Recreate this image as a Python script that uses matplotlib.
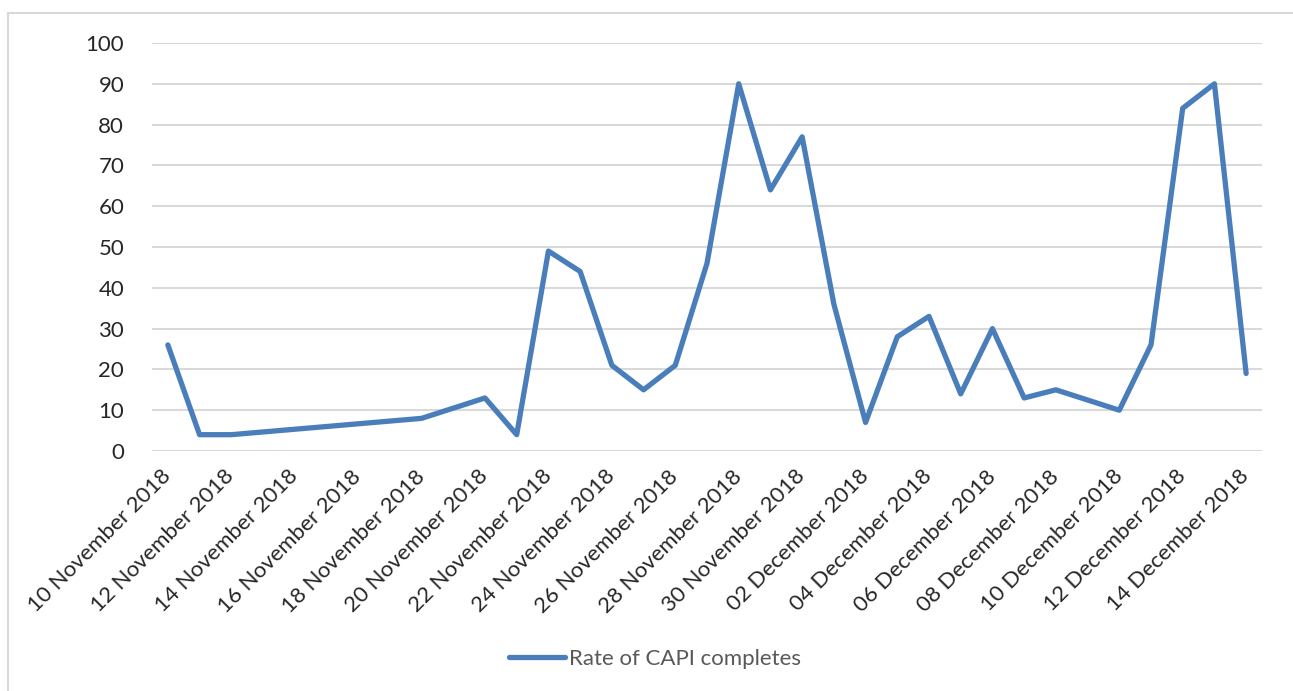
import matplotlib
matplotlib.use("Agg")
import matplotlib.pyplot as plt
import matplotlib.dates as mdates
from matplotlib.patches import Rectangle
import datetime as dt

# Daily CAPI completes (dates with data only)
dates = [
    "2018-11-10", "2018-11-11", "2018-11-12", "2018-11-18", "2018-11-20",
    "2018-11-21", "2018-11-22", "2018-11-23", "2018-11-24", "2018-11-25",
    "2018-11-26", "2018-11-27", "2018-11-28", "2018-11-29", "2018-11-30",
    "2018-12-01", "2018-12-02", "2018-12-03", "2018-12-04", "2018-12-05",
    "2018-12-06", "2018-12-07", "2018-12-08", "2018-12-10", "2018-12-11",
    "2018-12-12", "2018-12-13", "2018-12-14",
]
completes = [26, 4, 4, 8, 13, 4, 49, 44, 21, 15, 21, 46, 90, 64, 77,
             36, 7, 28, 33, 14, 30, 13, 15, 10, 26, 84, 90, 19]
series_name = "Rate of CAPI completes"
y_ticks = list(range(0, 101, 10))
tick_step_days = 2

x = [dt.datetime.strptime(d, "%Y-%m-%d") for d in dates]

plt.rcParams["font.family"] = ["Lato", "DejaVu Sans"]

fig = plt.figure(figsize=(12.93, 6.91), dpi=100)
fig.patch.set_facecolor("white")

# chart-area frame
fig.add_artist(Rectangle((8 / 1293, -0.01), 1290 / 1293 - 8 / 1293 + 0.01, 1 - 13 / 691 + 0.01,
                         transform=fig.transFigure, fill=False,
                         edgecolor="#D9D9D9", linewidth=1.5, zorder=0))

ax = fig.add_axes([152 / 1293, 1 - 451 / 691, (1262 - 152) / 1293, (451 - 43) / 691])

line, = ax.plot(x, completes, color="#4A7EBB", linewidth=3.8,
                solid_capstyle="round", solid_joinstyle="round",
                label=series_name, zorder=3)

half = dt.timedelta(hours=12)
ax.set_xlim(x[0] - half, x[-1] + half)
ax.set_ylim(0, 100)
ax.set_yticks(y_ticks)

n_days = (x[-1] - x[0]).days
x_ticks = [x[0] + dt.timedelta(days=d) for d in range(0, n_days + 1, tick_step_days)]
ax.set_xticks(x_ticks)
ax.xaxis.set_major_formatter(mdates.DateFormatter("%d %B %Y"))

ax.grid(axis="y", color="#D9D9D9", linewidth=1.5)
ax.set_axisbelow(True)
for s in ax.spines.values():
    s.set_visible(False)

ax.tick_params(axis="both", length=0, labelsize=16, labelcolor="#262626")
ax.tick_params(axis="y", pad=20)
ax.tick_params(axis="x", pad=16)
for lab in ax.get_xticklabels():
    lab.set_rotation(45)
    lab.set_ha("right")
    lab.set_va("center")
    lab.set_rotation_mode("anchor")

leg = fig.legend(handles=[line], loc="center", bbox_to_anchor=(655 / 1293, 1 - 659 / 691),
                 frameon=False, fontsize=16, handlelength=2.5, handletextpad=0.2,
                 labelcolor="#595959")

fig.savefig("out.png", dpi=100, facecolor="white")
